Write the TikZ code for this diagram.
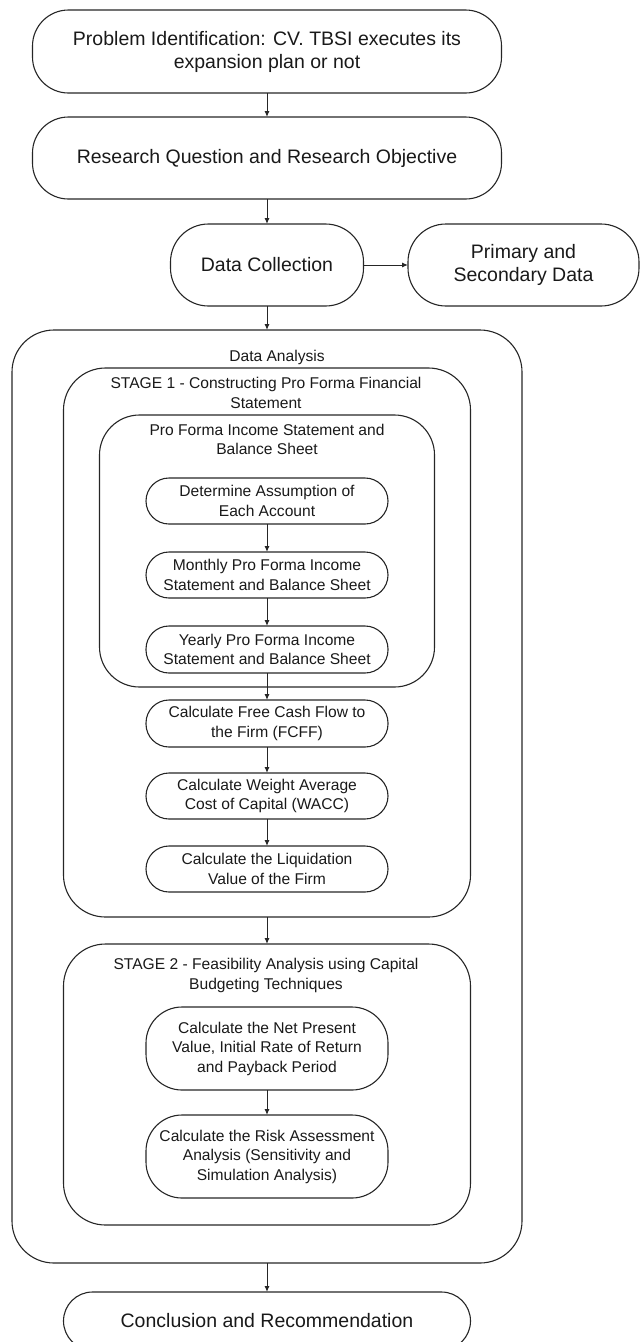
\documentclass[tikz,border=0pt]{standalone}
\usepackage{fontspec}
\setmainfont{Liberation Sans}
\usetikzlibrary{arrows.meta}
\begin{document}
\begin{tikzpicture}[x=1pt,y=-1pt,
  box/.style={draw=black!85, line width=1.1pt, rounded corners=#1, align=center, inner sep=0pt, outer sep=0pt, text=black!90},
  box/.default=36pt,
  bigtxt/.style={font=\fontsize{19.5}{23}\selectfont},
  smalltxt/.style={font=\fontsize{15.6}{19.5}\selectfont, align=center, text=black!90, inner sep=0pt},
  inner/.style={box=23pt, smalltxt, minimum width=242pt, minimum height=46pt},
  arr/.style={draw=black!85, line width=1pt, -{Latex[length=6pt,width=5pt]}}]
\useasboundingbox (0,0) rectangle (640,1342);
\clip (0,0) rectangle (640,1342);
% top level
\node[box=36pt, bigtxt, minimum width=469pt, minimum height=83pt] (p1) at (267,51.5) {Problem Identification: CV. TBSI executes its\\expansion plan or not};
\node[box=36pt, bigtxt, minimum width=469pt, minimum height=82pt] (p2) at (267,158) {Research Question and Research Objective};
\node[box=38pt, bigtxt, minimum width=193pt, minimum height=82pt] (dc) at (267,265) {Data Collection};
\node[box=38pt, bigtxt, minimum width=231pt, minimum height=82pt] (pd) at (523.5,265) {Primary and\\Secondary Data};
% containers
\node[box=42pt, minimum width=510pt, minimum height=933pt] (outer) at (267,796.5) {};
\node[box=42pt, minimum width=407pt, minimum height=549pt] (stage1) at (267,642.5) {};
\node[box=40pt, minimum width=335pt, minimum height=272pt] (pf) at (267,551) {};
\node[box=42pt, minimum width=407pt, minimum height=281pt] (stage2) at (267,1084.5) {};
% container titles
\node[smalltxt] (tDA) at (277,357) {Data Analysis};
\node[smalltxt] (tS1) at (266,393) {STAGE 1 - Constructing Pro Forma Financial\\Statement};
\node[smalltxt] (tPF) at (267,439.5) {Pro Forma Income Statement and\\Balance Sheet};
\node[smalltxt] (tS2) at (266,975.5) {STAGE 2 - Feasibility Analysis using Capital\\Budgeting Techniques};
% inner steps
\node[inner] (det) at (267,501) {Determine Assumption of\\Each Account};
\node[inner] (mon) at (267,575) {Monthly Pro Forma Income\\Statement and Balance Sheet};
\node[inner, minimum height=47pt] (yr) at (267,649.5) {Yearly Pro Forma Income\\Statement and Balance Sheet};
\node[inner, minimum height=47pt] (fcff) at (267,723.5) {Calculate Free Cash Flow to\\the Firm (FCFF)};
\node[inner] (wacc) at (267,796) {Calculate Weight Average\\Cost of Capital (WACC)};
\node[inner] (liq) at (267,869) {Calculate the Liquidation\\Value of the Firm};
\node[inner, box=36pt, minimum height=83pt] (npv) at (267,1048.5) {Calculate the Net Present\\Value, Initial Rate of Return\\and Payback Period};
\node[inner, box=36pt, minimum height=83pt] (risk) at (267,1156.5) {Calculate the Risk Assessment\\Analysis (Sensitivity and\\Simulation Analysis)};
\node[box=29pt, bigtxt, minimum width=407pt, minimum height=58pt] (concl) at (267,1321) {Conclusion and Recommendation};
% connectors
\draw[arr] (p1) -- (p2);
\draw[arr] (p2) -- (dc);
\draw[arr] (dc) -- (pd);
\draw[arr] (dc.south) -- (outer.north);
\draw[arr] (det) -- (mon);
\draw[arr] (mon) -- (yr);
\draw[arr] (yr) -- (fcff);
\draw[arr] (fcff) -- (wacc);
\draw[arr] (wacc) -- (liq);
\draw[arr] (stage1.south) -- (stage2.north);
\draw[arr] (npv) -- (risk);
\draw[arr] (outer.south) -- (concl.north);
\end{tikzpicture}
\end{document}
